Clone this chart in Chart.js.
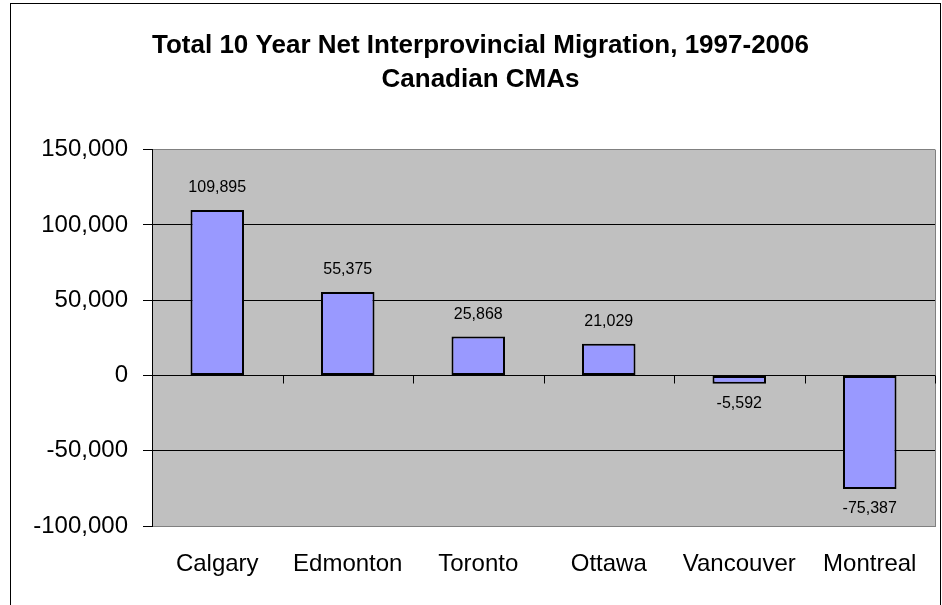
<!DOCTYPE html>
<html>
<head>
<meta charset="utf-8">
<script src="https://cdn.jsdelivr.net/npm/chart.js@4.4.0/dist/chart.umd.min.js"></script>
<style>
  html, body { margin: 0; padding: 0; background: #fff; }
  #wrap { width: 942px; height: 605px; }
</style>
</head>
<body>
<div id="wrap"><canvas id="c" width="942" height="605"></canvas></div>
<script>
// data
const cities = ['Calgary', 'Edmonton', 'Toronto', 'Ottawa', 'Vancouver', 'Montreal'];
const netMigration = [109895, 55375, 25868, 21029, -5592, -75387];
const titleLines = ['Total 10 Year Net Interprovincial Migration, 1997-2006', 'Canadian CMAs'];
const yMin = -100000;
const yMax = 150000;
const yStep = 50000;

const FONT = "'Liberation Sans', Arial, sans-serif";
const fmt = v => Number(v).toLocaleString('en-US');

// gray plot area, outer frame, zero-line ticks, bar value labels
const decor = {
  id: 'decor',
  beforeDraw(chart) {
    const { ctx, chartArea: a } = chart;
    ctx.save();
    ctx.fillStyle = '#c0c0c0';
    ctx.fillRect(a.left, a.top, a.right - a.left, a.bottom - a.top);
    ctx.strokeStyle = '#000';
    ctx.lineWidth = 1;
    ctx.strokeRect(10.5, 3.5, 930, 700);
    ctx.restore();
  },
  beforeDatasetsDraw(chart) {
    const { ctx, chartArea: a, scales } = chart;
    const x = scales.x, y = scales.y;
    const y0 = Math.round(y.getPixelForValue(0)) + 0.5;
    ctx.save();
    // right edge of plot
    ctx.strokeStyle = '#808080';
    ctx.lineWidth = 1;
    ctx.beginPath();
    ctx.moveTo(Math.round(a.right) + 0.5, a.top);
    ctx.lineTo(Math.round(a.right) + 0.5, a.bottom);
    ctx.stroke();
    // category separators on the zero line
    ctx.strokeStyle = '#000';
    ctx.beginPath();
    for (let i = 0; i <= cities.length; i++) {
      const px = Math.round(x.getPixelForValue(i - 0.5)) + 0.5;
      ctx.moveTo(px, y0);
      ctx.lineTo(px, y0 + 8);
    }
    ctx.stroke();
    ctx.restore();
  },
  afterDatasetsDraw(chart) {
    const { ctx } = chart;
    const meta = chart.getDatasetMeta(0);
    ctx.save();
    ctx.font = '16px ' + FONT;
    ctx.fillStyle = '#000';
    ctx.textAlign = 'center';
    ctx.textBaseline = 'middle';
    meta.data.forEach((bar, i) => {
      const v = netMigration[i];
      const ty = v >= 0 ? bar.y - 22 : bar.y + 20;
      ctx.fillText(fmt(v), bar.x, ty);
    });
    ctx.restore();
  }
};

new Chart(document.getElementById('c'), {
  type: 'bar',
  data: {
    labels: cities,
    datasets: [{
      data: netMigration,
      backgroundColor: '#9999ff',
      borderColor: '#000',
      borderWidth: 2,
      borderSkipped: false,
      barPercentage: 0.41,
      categoryPercentage: 1
    }]
  },
  options: {
    responsive: false,
    animation: false,
    layout: { padding: { left: 26, right: 7, top: 0, bottom: 0 } },
    plugins: {
      legend: { display: false },
      tooltip: { enabled: false },
      title: {
        display: true,
        text: titleLines,
        color: '#000',
        font: { family: FONT, size: 26, weight: 'bold', lineHeight: 1.3 },
        padding: { top: 29, bottom: 53 }
      }
    },
    scales: {
      x: {
        grid: { display: false, drawTicks: false },
        border: { display: true, color: '#808080', width: 1 },
        ticks: { color: '#000', font: { family: FONT, size: 24 }, padding: 24, maxRotation: 0 },
        afterFit(s) { s.height = 79; }
      },
      y: {
        min: yMin,
        max: yMax,
        ticks: {
          stepSize: yStep,
          color: '#000',
          padding: 15,
          font: { family: FONT, size: 24 },
          callback: v => fmt(v)
        },
        grid: {
          color: c => (c.tick && (c.tick.value === yMax || c.tick.value === yMin)) ? '#808080' : '#000',
          tickColor: '#000',
          tickLength: 9,
          lineWidth: 1
        },
        border: { display: true, color: '#000', width: 1 },
        afterFit(s) { s.width = 126; }
      }
    }
  },
  plugins: [decor]
});
</script>
</body>
</html>
